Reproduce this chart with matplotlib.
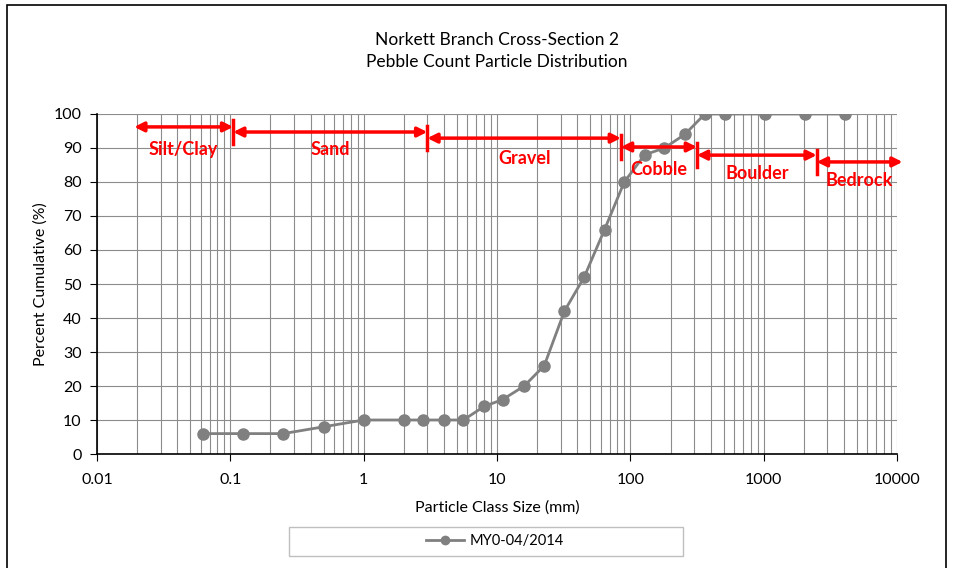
import matplotlib.pyplot as plt
import numpy as np
from matplotlib.ticker import LogLocator, NullFormatter

plt.rcParams['font.family'] = ['Lato', 'DejaVu Sans']

# particle sizes (mm) and cumulative percent
sizes = [0.062, 0.125, 0.25, 0.5, 1, 2, 2.8, 4, 5.6, 8, 11, 16, 22.6, 32, 45, 64,
         90, 128, 180, 256, 362, 512, 1024, 2048, 4096]
percent = [6, 6, 6, 8, 10, 10, 10, 10, 10, 14, 16, 20, 26, 42, 52, 66,
           80, 88, 90, 94, 100, 100, 100, 100, 100]

# size class bands: name, left edge, right edge, arrow level, label level
class_names = ['Silt/Clay', 'Sand', 'Gravel', 'Cobble', 'Boulder', 'Bedrock']
class_left = [0.019, 0.105, 3.0, 85, 316, 2500]
class_right = [0.105, 3.0, 85, 316, 2500, 11000]
arrow_y = [96.2, 94.7, 92.9, 90.3, 87.9, 85.9]
label_y = [89.6, 89.6, 86.8, 83.8, 82.6, 80.3]

RED = '#ff0000'
GRID = '#8c8c8c'

fig = plt.figure(figsize=(9.54, 5.68), dpi=100)
fig.patches.append(plt.Rectangle((0.007, -0.1), 0.985, 1.092, transform=fig.transFigure,
                                 fill=False, edgecolor='black', lw=1.2))
ax = fig.add_axes([0.1017, 0.2007, 0.8386, 0.5986])

ax.plot(sizes, percent, '-o', color='#808080', lw=2, ms=8, label='MY0-04/2014', zorder=3)

ax.set_xscale('log')
ax.set_xlim(0.01, 10000)
ax.set_ylim(0, 100)
ax.set_yticks(np.arange(0, 101, 10))
ax.set_xticks([0.01, 0.1, 1, 10, 100, 1000, 10000])
ax.set_xticklabels(['0.01', '0.1', '1', '10', '100', '1000', '10000'])
ax.xaxis.set_minor_locator(LogLocator(base=10, subs=np.arange(2, 10)))
ax.xaxis.set_minor_formatter(NullFormatter())
ax.grid(True, which='both', axis='x', color=GRID, lw=0.8)
ax.grid(True, which='major', axis='y', color=GRID, lw=0.8)
ax.tick_params(axis='x', which='minor', length=0)
ax.tick_params(axis='both', which='major', length=5, color='black', labelsize=11.5)
ax.tick_params(axis='x', which='major', pad=9)
ax.tick_params(axis='y', which='major', pad=6)
for s in ['top', 'right']:
    ax.spines[s].set_visible(False)
ax.spines['left'].set_linewidth(1.2)
ax.spines['bottom'].set_linewidth(1.2)

ax.set_xlabel('Particle Class Size (mm)', fontsize=11.5, labelpad=9)
ax.set_ylabel('Percent Cumulative (%)', fontsize=11.5, labelpad=4)
ax.set_title('Norkett Branch Cross-Section 2\nPebble Count Particle Distribution',
             fontsize=12.5, pad=34, linespacing=1.45)

# class arrows, boundary bars and labels
for i, name in enumerate(class_names):
    ax.annotate('', xy=(class_right[i], arrow_y[i]), xytext=(class_left[i], arrow_y[i]),
                arrowprops=dict(arrowstyle='<|-|>', color=RED, lw=2.5,
                                mutation_scale=14, shrinkA=0, shrinkB=0),
                annotation_clip=False, zorder=5)
    if i > 0:
        ax.plot([class_left[i], class_left[i]], [arrow_y[i] - 3.5, arrow_y[i] + 3.5],
                color=RED, lw=2.5, zorder=5, clip_on=False)
    xc = np.sqrt(class_left[i] * class_right[i])
    ax.text(xc, label_y[i], name, color=RED, fontsize=13, fontweight='bold',
            ha='center', va='center', zorder=6)

# legend inside a wide box below the axes
ax.add_patch(plt.Rectangle((0.24, -0.3), 0.4925, 0.0853, transform=ax.transAxes,
                           fill=False, edgecolor='#bfbfbf', lw=1.0, clip_on=False))
ax.legend(loc='center', bbox_to_anchor=(0.497, -0.2573), frameon=False, fontsize=10.5,
          handlelength=2.6, handletextpad=0.4, markerscale=0.75)

plt.savefig('out.png', dpi=100)
